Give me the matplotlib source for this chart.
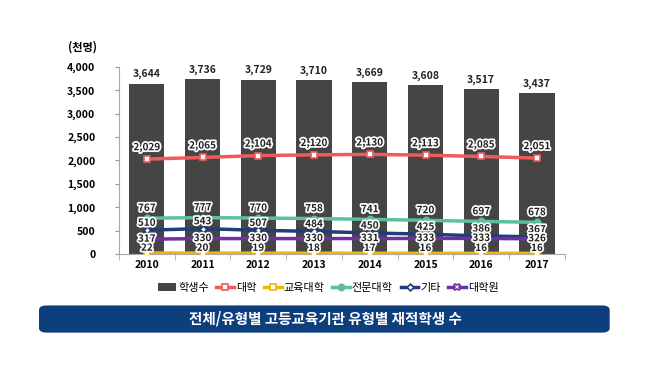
import numpy as np
import matplotlib.pyplot as plt
import matplotlib.patheffects as pe
from matplotlib.patches import FancyBboxPatch

plt.rcParams['font.family'] = ['Noto Sans CJK KR', 'DejaVu Sans']

years = ['2010', '2011', '2012', '2013', '2014', '2015', '2016', '2017']
total = [3644, 3736, 3729, 3710, 3669, 3608, 3517, 3437]
univ = [2029, 2065, 2104, 2120, 2130, 2113, 2085, 2051]
edu_univ = [22, 20, 19, 18, 17, 16, 16, 16]
college = [767, 777, 770, 758, 741, 720, 697, 678]
other = [510, 543, 507, 484, 450, 425, 386, 367]
grad = [317, 330, 330, 330, 331, 333, 333, 326]

fig = plt.figure(figsize=(6.5, 3.78), dpi=100)
ax = fig.add_axes([0.183, 0.328, 0.686, 0.495])
x = np.arange(len(years))

handles = []
handles.append(ax.bar(x, total, width=0.63, color='#454545', label='학생수', zorder=1))
for xi, v in zip(x, total):
    ax.text(xi, v + 90, f'{v:,}', ha='center', va='bottom', fontsize=7.5,
            fontweight='bold', color='#222222')

halo = [pe.withStroke(linewidth=2.5, foreground='white')]

# values, name, colour, marker, size, face, label offset
series = [
    (univ, '대학', '#f05a5a', 's', 5, 'white', 140),
    (edu_univ, '교육대학', '#f5b400', 's', 5, 'white', 5),
    (college, '전문대학', '#5cbfa2', 'o', 4.5, '#5cbfa2', 110),
    (other, '기타', '#1f3d7a', 'D', 3.5, 'white', 50),
    (grad, '대학원', '#7030a0', 'X', 5, 'white', 10),
]
for vals, name, col, mk, ms, mfc, off in series:
    ln, = ax.plot(x, vals, color=col, lw=2.5, marker=mk, ms=ms, mfc=mfc,
                  mec=col, mew=1.2, label=name, zorder=3)
    handles.append(ln)
    for xi, v in zip(x, vals):
        va = 'center' if name == '대학원' else 'bottom'
        ax.text(xi, v + off, f'{v:,}', ha='center', va=va, fontsize=7.2,
                fontweight='bold', color='#222222', path_effects=halo, zorder=5)

ax.set_xlim(-0.5, len(years) - 0.5)
ax.set_ylim(0, 4000)
ax.set_yticks(range(0, 4001, 500))
ax.set_yticklabels([f'{v:,}' for v in range(0, 4001, 500)], fontsize=7.5, fontweight='bold')
ax.set_xticks(x)
ax.set_xticklabels(years, fontsize=7.5, fontweight='bold')
ax.tick_params(axis='y', length=3, color='#999999', pad=14)
ax.tick_params(axis='x', length=0, pad=4)
for s in ['top', 'right']:
    ax.spines[s].set_visible(False)
ax.spines['left'].set_color('#aaaaaa')
ax.spines['bottom'].set_color('#aaaaaa')
ax.set_xticks(np.arange(-0.5, len(years)), minor=True)
ax.tick_params(axis='x', which='minor', length=4, color='#aaaaaa')

fig.text(0.105, 0.875, '(천명)', fontsize=8, fontweight='bold', ha='left', va='center')

ax.legend(handles=handles, loc='upper center', bbox_to_anchor=(0.47, -0.1), ncol=6,
          frameon=False, fontsize=8, handlelength=1.6, handletextpad=0.15,
          columnspacing=0.7)

box = FancyBboxPatch((0.06, 0.12), 0.878, 0.072, boxstyle='round,pad=0,rounding_size=0.012',
                     transform=fig.transFigure, facecolor='#0d3f7c', edgecolor='none')
fig.patches.append(box)
fig.text(0.5, 0.157, '전체/유형별 고등교육기관 유형별 재적학생 수', color='white', fontsize=10.5,
         fontweight='bold', ha='center', va='center')

fig.savefig('out.png', dpi=100)
